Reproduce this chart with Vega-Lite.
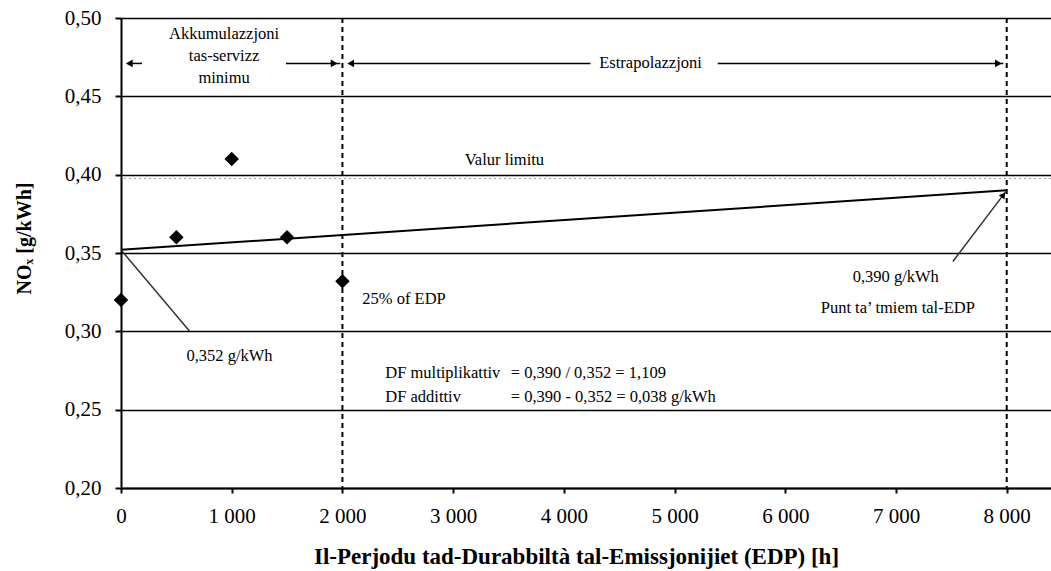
{
  "$schema": "https://vega.github.io/schema/vega-lite/v6.json",
  "width": 930,
  "height": 470,
  "autosize": {"type": "none"},
  "padding": {"left": 121, "top": 18, "right": 0, "bottom": 83},
  "background": "white",
  "config": {
    "view": {"stroke": null},
    "font": "Liberation Serif",
    "text": {"font": "Liberation Serif", "fontSize": 16.5, "color": "black"}
  },
  "datasets": {
    "points": [
      {"h": 0, "nox": 0.32},
      {"h": 500, "nox": 0.36},
      {"h": 1000, "nox": 0.41},
      {"h": 1500, "nox": 0.36},
      {"h": 2000, "nox": 0.332}
    ],
    "trend": [
      {"h": 0, "nox": 0.352},
      {"h": 8000, "nox": 0.39}
    ],
    "vlines": [{"h": 2000}, {"h": 8000}],
    "limit": [{"nox": 0.3975}],
    "segments": [
      {"h": 60, "h2": 190, "nox": 0.471, "nox2": 0.471},
      {"h": 1490, "h2": 1980, "nox": 0.471, "nox2": 0.471},
      {"h": 2060, "h2": 4240, "nox": 0.471, "nox2": 0.471},
      {"h": 5390, "h2": 7970, "nox": 0.471, "nox2": 0.471}
    ],
    "leaders": [
      {"h": 0, "h2": 620, "nox": 0.352, "nox2": 0.30},
      {"h": 7514, "h2": 8000, "nox": 0.3446, "nox2": 0.39}
    ],
    "headsLeft": [{"h": 75, "nox": 0.471}, {"h": 2075, "nox": 0.471}],
    "headsRight": [{"h": 1925, "nox": 0.471}, {"h": 7925, "nox": 0.471}],
    "headsDiag": [{"h": 7965, "nox": 0.3865}],
    "labelsCenter": [
      {"h": 931, "nox": 0.490, "label": "Akkumulazzjoni"},
      {"h": 931, "nox": 0.4755, "label": "tas-servizz"},
      {"h": 931, "nox": 0.4615, "label": "minimu"},
      {"h": 4783, "nox": 0.4713, "label": "Estrapolazzjoni"},
      {"h": 3463, "nox": 0.4095, "label": "Valur limitu"},
      {"h": 980, "nox": 0.2845, "label": "0,352 g/kWh"},
      {"h": 6998, "nox": 0.335, "label": "0,390 g/kWh"},
      {"h": 7016, "nox": 0.315, "label": "Punt ta’ tmiem tal-EDP"}
    ],
    "labelsLeft": [
      {"h": 2180, "nox": 0.3207, "label": "25% of EDP"},
      {"h": 2387, "nox": 0.2737, "label": "DF multiplikattiv"},
      {"h": 2387, "nox": 0.2583, "label": "DF addittiv"},
      {"h": 3520, "nox": 0.2737, "label": "= 0,390 / 0,352 = 1,109"},
      {"h": 3520, "nox": 0.2583, "label": "= 0,390 - 0,352 = 0,038 g/kWh"}
    ]
  },
  "encoding": {
    "x": {
      "field": "h", "type": "quantitative",
      "scale": {"domain": [0, 8400], "nice": false, "zero": false},
      "axis": {
        "title": "Il-Perjodu tad-Durabbiltà tal-Emissjonijiet (EDP) [h]",
        "values": [0, 1000, 2000, 3000, 4000, 5000, 6000, 7000, 8000],
        "labelExpr": "replace(format(datum.value, ','), ',', ' ')",
        "grid": false,
        "domain": true, "domainColor": "black", "domainWidth": 2,
        "ticks": true, "tickColor": "black", "tickSize": 5, "tickWidth": 2,
        "labelPadding": 12,
        "labelFont": "Liberation Serif", "labelFontSize": 21, "labelColor": "black",
        "labelFlush": false, "labelOverlap": false,
        "titleFont": "Liberation Serif", "titleFontSize": 23, "titleFontWeight": "bold", "titleColor": "black",
        "titleX": 455, "titleY": 75, "titleAlign": "center", "titleBaseline": "alphabetic", "titleAnchor": null
      }
    },
    "y": {
      "field": "nox", "type": "quantitative",
      "scale": {"domain": [0.2, 0.5], "nice": false, "zero": false},
      "axis": {
        "title": "NOₓ [g/kWh]",
        "values": [0.2, 0.25, 0.3, 0.35, 0.4, 0.45, 0.5],
        "labelExpr": "replace(format(datum.value, '.2f'), '.', ',')",
        "grid": true, "gridColor": "black", "gridWidth": 1.5, "gridOpacity": 1,
        "domain": true, "domainColor": "black", "domainWidth": 2,
        "ticks": true, "tickColor": "black", "tickSize": 6, "tickWidth": 2,
        "labelPadding": 14,
        "labelFont": "Liberation Serif", "labelFontSize": 21, "labelColor": "black",
        "labelFlush": false, "labelOverlap": false,
        "titleFont": "Liberation Serif", "titleFontSize": 20, "titleFontWeight": "bold", "titleColor": "black",
        "titleX": -97, "titleY": 220, "titleAngle": 270, "titleAlign": "center", "titleBaseline": "middle", "titleAnchor": null
      }
    }
  },
  "layer": [
    {
      "data": {"name": "limit"},
      "mark": {"type": "rule", "color": "#9a9a9a", "strokeWidth": 1, "strokeDash": [2, 3]},
      "encoding": {"x": null, "y": {"field": "nox", "type": "quantitative"}}
    },
    {
      "data": {"name": "vlines"},
      "mark": {"type": "rule", "color": "black", "strokeWidth": 2, "strokeDash": [5, 4]},
      "encoding": {"y": null, "x": {"field": "h", "type": "quantitative"}}
    },
    {
      "data": {"name": "trend"},
      "mark": {"type": "line", "color": "black", "strokeWidth": 2},
      "encoding": {}
    },
    {
      "data": {"name": "leaders"},
      "mark": {"type": "rule", "color": "#333333", "strokeWidth": 1.5},
      "encoding": {"x2": {"field": "h2"}, "y2": {"field": "nox2"}}
    },
    {
      "data": {"name": "segments"},
      "mark": {"type": "rule", "color": "black", "strokeWidth": 1.5},
      "encoding": {"x2": {"field": "h2"}, "y2": {"field": "nox2"}}
    },
    {
      "data": {"name": "headsLeft"},
      "mark": {"type": "point", "shape": "triangle-left", "filled": true, "color": "black", "size": 60, "opacity": 1},
      "encoding": {}
    },
    {
      "data": {"name": "headsRight"},
      "mark": {"type": "point", "shape": "triangle-right", "filled": true, "color": "black", "size": 60, "opacity": 1},
      "encoding": {}
    },
    {
      "data": {"name": "headsDiag"},
      "mark": {"type": "point", "shape": "triangle", "angle": 37, "filled": true, "color": "black", "size": 50, "opacity": 1},
      "encoding": {}
    },
    {
      "data": {"name": "points"},
      "mark": {"type": "point", "shape": "diamond", "filled": true, "color": "black", "size": 210, "opacity": 1},
      "encoding": {}
    },
    {
      "data": {"name": "labelsCenter"},
      "mark": {"type": "text", "align": "center", "baseline": "middle", "fontSize": 16.5, "font": "Liberation Serif"},
      "encoding": {"text": {"field": "label"}}
    },
    {
      "data": {"name": "labelsLeft"},
      "mark": {"type": "text", "align": "left", "baseline": "middle", "fontSize": 16.5, "font": "Liberation Serif"},
      "encoding": {"text": {"field": "label"}}
    }
  ]
}
